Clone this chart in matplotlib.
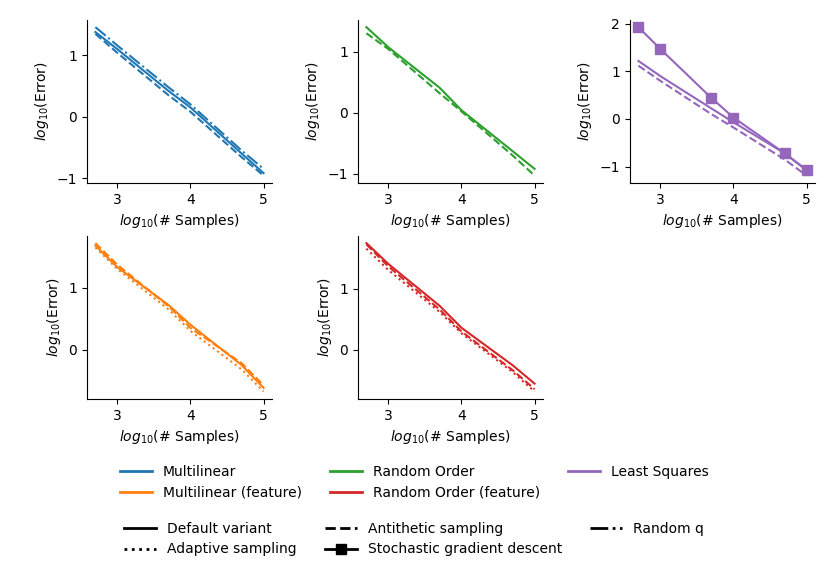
import numpy as np
import matplotlib
matplotlib.use("Agg")
import matplotlib.pyplot as plt
from matplotlib.lines import Line2D

# ============================================================================
# DATA (log10 error vs number of samples)
# ============================================================================

samples = [500, 1000, 5000, 10000, 50000, 100000]

multilinear_default = [1.38, 1.10, 0.42, 0.15, -0.60, -0.92]
multilinear_antithetic = [1.35, 1.04, 0.35, 0.08, -0.66, -0.96]
multilinear_random_q = [1.46, 1.16, 0.48, 0.20, -0.55, -0.85]

random_order_default = [1.40, 1.07, 0.41, 0.04, -0.63, -0.92]
random_order_antithetic = [1.30, 1.04, 0.32, 0.02, -0.70, -1.03]

least_squares_default = [1.22, 0.90, 0.22, -0.07, -0.72, -1.08]
least_squares_antithetic = [1.12, 0.80, 0.10, -0.18, -0.85, -1.19]
least_squares_sgd = [1.93, 1.47, 0.44, 0.03, -0.72, -1.07]

ml_feature_default = [1.68, 1.33, 0.72, 0.40, -0.25, -0.62]
ml_feature_antithetic = [1.72, 1.37, 0.70, 0.35, -0.22, -0.58]
ml_feature_adaptive = [1.65, 1.30, 0.65, 0.30, -0.32, -0.68]

ro_feature_default = [1.74, 1.40, 0.72, 0.36, -0.25, -0.55]
ro_feature_antithetic = [1.72, 1.36, 0.66, 0.30, -0.33, -0.64]
ro_feature_adaptive = [1.65, 1.30, 0.62, 0.27, -0.36, -0.68]

method_names = ["Multilinear", "Multilinear (feature)", "Random Order",
                "Random Order (feature)", "Least Squares"]
method_colors = ["#1f77b4", "#ff7f0e", "#2ca02c", "#d62728", "#9467bd"]

variant_names = ["Default variant", "Adaptive sampling", "Antithetic sampling",
                 "Stochastic gradient descent", "Random q"]

# ============================================================================
# PLOT
# ============================================================================

plt.rcParams["font.size"] = 10
x = np.log10(samples)

fig = plt.figure(figsize=(8.3, 5.71), dpi=100)
lefts = [0.1048, 0.4313, 0.759]
w, h = 0.2229, 0.2860
ax1 = fig.add_axes([lefts[0], 0.6795, w, h])
ax2 = fig.add_axes([lefts[1], 0.6795, w, h])
ax3 = fig.add_axes([lefts[2], 0.6795, w, h])
ax4 = fig.add_axes([lefts[0], 0.3012, w, h])
ax5 = fig.add_axes([lefts[1], 0.3012, w, h])

c_ml, c_mlf, c_ro, c_rof, c_ls = method_colors

ax1.plot(x, multilinear_default, '-', color=c_ml)
ax1.plot(x, multilinear_antithetic, '--', color=c_ml)
ax1.plot(x, multilinear_random_q, '-.', color=c_ml)

ax2.plot(x, random_order_default, '-', color=c_ro)
ax2.plot(x, random_order_antithetic, '--', color=c_ro)

ax3.plot(x, least_squares_default, '-', color=c_ls)
ax3.plot(x, least_squares_antithetic, '--', color=c_ls)
ax3.plot(x, least_squares_sgd, 's-', color=c_ls, markersize=7)

ax4.plot(x, ml_feature_default, '-', color=c_mlf)
ax4.plot(x, ml_feature_antithetic, '--', color=c_mlf)
ax4.plot(x, ml_feature_adaptive, ':', color=c_mlf)

ax5.plot(x, ro_feature_default, '-', color=c_rof)
ax5.plot(x, ro_feature_antithetic, '--', color=c_rof)
ax5.plot(x, ro_feature_adaptive, ':', color=c_rof)

for ax in [ax1, ax2, ax3, ax4, ax5]:
    ax.set_xlabel('$log_{10}$(# Samples)')
    ax.set_ylabel('$log_{10}$(Error)')
    ax.set_xticks([3, 4, 5])
    ax.spines['top'].set_visible(False)
    ax.spines['right'].set_visible(False)

# Legends: methods (colours) and variants (line styles)
method_handles = [Line2D([], [], color=c, lw=2) for c in method_colors]
fig.legend(method_handles, method_names, ncol=3, frameon=False,
           loc='center', bbox_to_anchor=(0.499, 0.155),
           borderpad=0, borderaxespad=0, handlelength=2.3)

variant_handles = [
    Line2D([], [], color='k', ls='-', lw=2),
    Line2D([], [], color='k', ls=':', lw=2),
    Line2D([], [], color='k', ls='--', lw=2),
    Line2D([], [], color='k', ls='-', lw=2, marker='s', markersize=7),
    Line2D([], [], color='k', ls='-.', lw=2),
]
fig.legend(variant_handles, variant_names, ncol=3, frameon=False,
           loc='center', bbox_to_anchor=(0.499, 0.056),
           borderpad=0, borderaxespad=0, handlelength=2.3)

plt.savefig('out.png', dpi=100)
